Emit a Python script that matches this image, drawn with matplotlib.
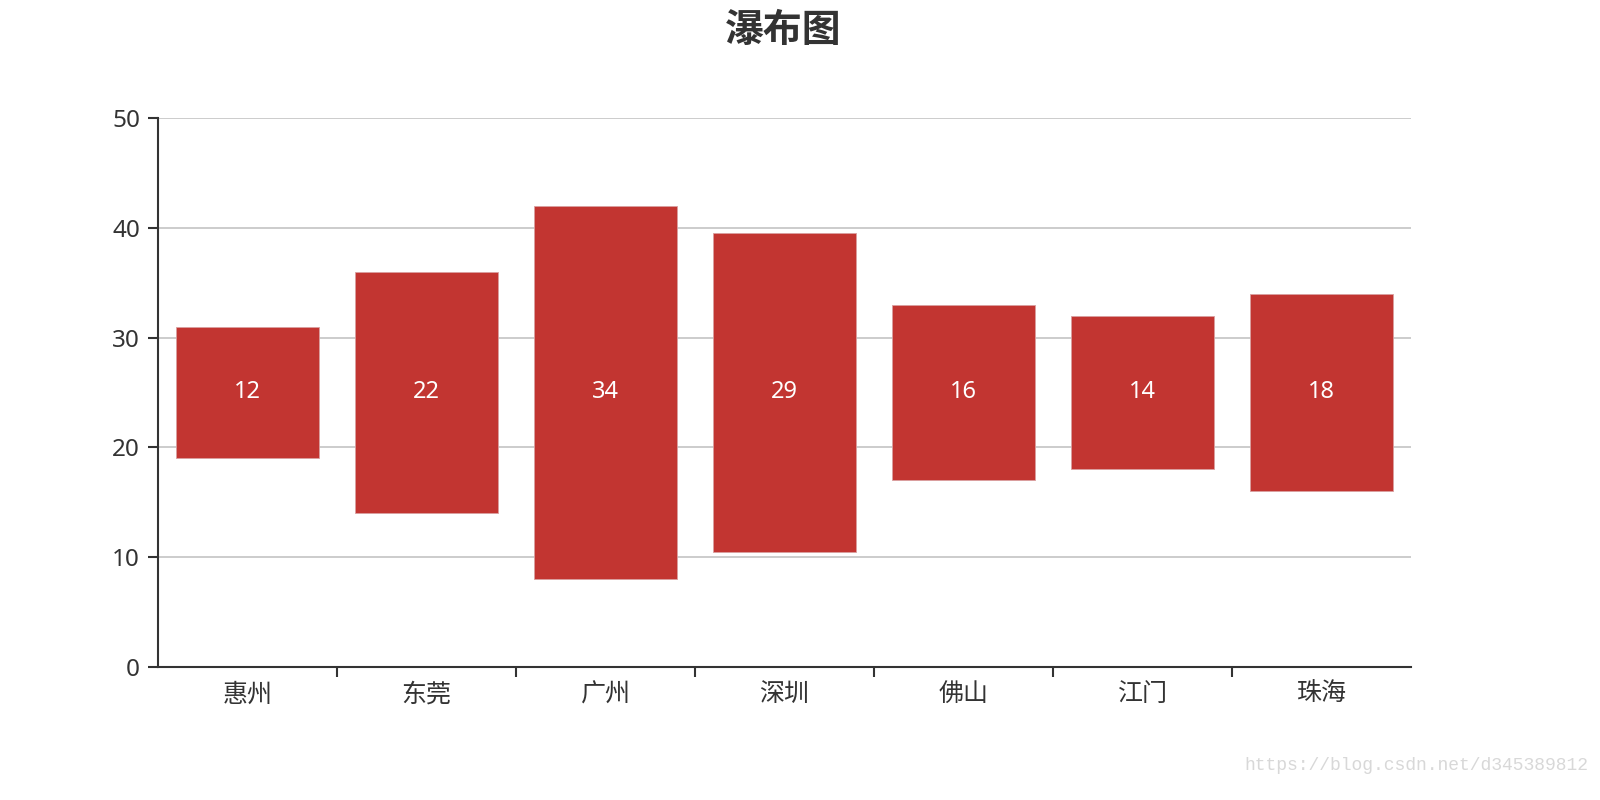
import matplotlib
matplotlib.use("Agg")
import matplotlib.pyplot as plt
import numpy as np

plt.rcParams['font.family'] = ['Noto Sans', 'Noto Sans CJK SC', 'DejaVu Sans']

categories = ['惠州', '东莞', '广州', '深圳', '佛山', '江门', '珠海']
values = [12, 22, 34, 29, 16, 14, 18]
bases = [19, 14, 8, 10.5, 17, 18, 16]
yticks = [0, 10, 20, 30, 40, 50]

title = '瀑布图'
watermark = 'https://blog.csdn.net/d345389812'

fig = plt.figure(figsize=(16, 8), dpi=100)
ax = fig.add_axes([158/1600, 133/800, 1253/1600, 549/800])

x = np.arange(len(categories))
bars = ax.bar(x, values, bottom=bases, width=0.8, color='#c23531',
              edgecolor='#d9a0a0', linewidth=0.6, zorder=3)
for xi, v, b in zip(x, values, bases):
    ax.text(xi, b + v / 2, str(v), ha='center', va='center', color='white',
            fontsize=17, zorder=4)

ax.set_xlim(-0.5, len(categories) - 0.5)
ax.set_ylim(0, 50)
ax.set_yticks(yticks)
ax.set_yticklabels([str(t) for t in yticks], fontsize=17.5, color='#333333')
ax.yaxis.grid(True, color='#c8c8c8', linewidth=1.3, zorder=0)
ax.set_axisbelow(True)

ax.set_xticks(x)
ax.set_xticklabels(categories, fontsize=18, color='#333333')
ax.tick_params(axis='x', length=0, pad=11)
ax.set_xticks(np.arange(0.5, len(categories) - 1, 1.0), minor=True)
ax.tick_params(axis='x', which='minor', length=7, width=1.5, color='#333333', direction='out')
ax.tick_params(axis='y', length=7, width=1.5, color='#333333', pad=6)

for s in ['top', 'right']:
    ax.spines[s].set_visible(False)
for s in ['left', 'bottom']:
    ax.spines[s].set_color('#333333')
    ax.spines[s].set_linewidth(1.5)

fig.text(783/1600, 1 - 32/800, title, ha='center', va='center', fontsize=28,
         fontweight='bold', color='#333333')
fig.text(1588/1600, 1 - 765/800, watermark, ha='right', va='center', fontsize=13,
         color='#d8d8d8', family=['Liberation Mono', 'DejaVu Sans Mono'])

fig.savefig('out.png', dpi=100)
